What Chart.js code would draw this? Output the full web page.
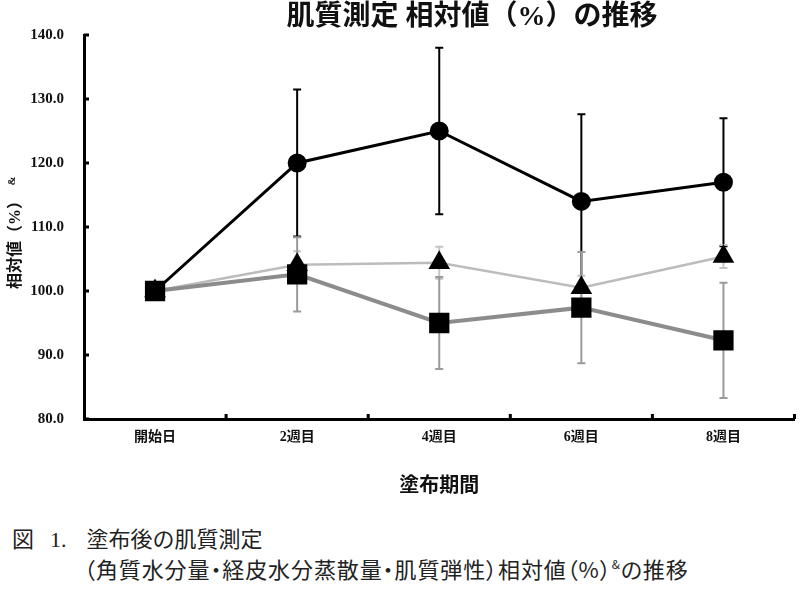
<!DOCTYPE html>
<html>
<head>
<meta charset="utf-8">
<script src="https://cdn.jsdelivr.net/npm/chart.js@4/dist/chart.umd.min.js"></script>
<style>
  body { margin: 0; background: #fff; width: 810px; height: 598px; overflow: hidden; }
  .cap { position: absolute; white-space: nowrap; font-family: "Noto Sans CJK JP", sans-serif; font-size: 22px; line-height: 30px; color: #222; }
  .num { font-family: "Liberation Serif", serif; }
  .palt { font-feature-settings: "palt"; letter-spacing: 0.9px; }
  .cap sup { font-size: 12px; vertical-align: 9px; line-height: 0; }
</style>
</head>
<body>
<canvas id="chart" width="810" height="510"></canvas>
<div class="cap" style="left:12px;top:522px">図<span class="num" style="margin-left:16px">1.</span><span style="margin-left:20px">塗布後の肌質測定</span></div>
<div class="cap palt" style="left:84px;top:553px">（角質水分量・経皮水分蒸散量・肌質弾性）相対値（%）<sup>&amp;</sup>の推移</div>
<script>
// categories and values
const labels = ['開始日', '2週目', '4週目', '6週目', '8週目'];
const circleVals = [100, 120, 125, 114, 117];
const circleErr = [0, 11.5, 13, 13.6, 10];
const triangleVals = [100, 104.1, 104.4, 100.5, 105.4];
const triangleErr = [0, 2.1, 2.5, 1.9, 1.8];
const squareVals = [100, 102.6, 95, 97.4, 92.3];
const squareErr = [0, 5.8, 7.2, 8.7, 9.0];
const yTicks = [80, 90, 100, 110, 120, 130, 140];

const titleText = '肌質測定 相対値（%）の推移';
const xTitle = '塗布期間';
const yTitle = '相対値（%）';

// error bars, inward tick marks, title and y title
const extras = {
  id: 'extras',
  beforeDatasetsDraw(chart) {
    const ctx = chart.ctx;
    const y = chart.scales.y;
    chart.data.datasets.forEach((ds, di) => {
      const meta = chart.getDatasetMeta(di);
      ds.errors.forEach((e, i) => {
        if (!e) return;
        const px = meta.data[i].x;
        const top = y.getPixelForValue(ds.data[i] + e);
        const bot = y.getPixelForValue(ds.data[i] - e);
        ctx.save();
        ctx.strokeStyle = ds.errColor;
        ctx.lineWidth = 2;
        ctx.beginPath();
        ctx.moveTo(px, top); ctx.lineTo(px, bot);
        ctx.moveTo(px - 4, top); ctx.lineTo(px + 4, top);
        ctx.moveTo(px - 4, bot); ctx.lineTo(px + 4, bot);
        ctx.stroke();
        ctx.restore();
      });
    });
  },
  afterDraw(chart) {
    const ctx = chart.ctx;
    const a = chart.chartArea;
    const y = chart.scales.y;
    const x = chart.scales.x;
    ctx.save();
    ctx.strokeStyle = '#000';
    ctx.lineWidth = 3;
    ctx.beginPath();
    yTicks.forEach(v => {
      const py = y.getPixelForValue(v);
      ctx.moveTo(a.left, py); ctx.lineTo(a.left + 5, py);
    });
    const step = x.getPixelForValue(1) - x.getPixelForValue(0);
    for (let i = 0; i < labels.length; i++) {
      const px = x.getPixelForValue(i) + step / 2;
      ctx.moveTo(px, a.bottom); ctx.lineTo(px, a.bottom - 5);
    }
    ctx.stroke();

    ctx.fillStyle = '#111';
    ctx.font = 'bold 28px "Liberation Serif", "Noto Sans CJK JP"';
    ctx.textAlign = 'center';
    ctx.textBaseline = 'middle';
    ctx.fillText(titleText, 472, 18);

    ctx.translate(16, 241);
    ctx.rotate(-Math.PI / 2);
    ctx.font = 'bold 16px "Liberation Serif", "Noto Sans CJK JP"';
    ctx.fillText(yTitle, 0, 0);
    const w = ctx.measureText(yTitle).width;
    ctx.font = 'bold 11px "Liberation Serif"';
    ctx.fillText('&', w / 2 + 12, -4);
    ctx.restore();
  }
};

new Chart(document.getElementById('chart'), {
  type: 'line',
  data: {
    labels: labels,
    datasets: [
      {
        data: circleVals, errors: circleErr, errColor: '#000',
        borderColor: '#000', borderWidth: 3,
        pointStyle: 'circle', pointRadius: 8,
        pointBackgroundColor: '#000', pointBorderColor: '#000',
        order: 3
      },
      {
        data: triangleVals, errors: triangleErr, errColor: '#c4c4c4',
        borderColor: '#bcbcbc', borderWidth: 2.5,
        pointStyle: 'triangle', pointRadius: 10,
        pointBackgroundColor: '#000', pointBorderColor: '#000',
        order: 2
      },
      {
        data: squareVals, errors: squareErr, errColor: '#9a9a9a',
        borderColor: '#8c8c8c', borderWidth: 4,
        pointStyle: 'rect', pointRadius: 11.5,
        pointBackgroundColor: '#000', pointBorderColor: '#000',
        order: 1
      }
    ]
  },
  options: {
    responsive: false,
    animation: false,
    layout: { padding: { top: 35, right: 10, left: 0, bottom: 0 } },
    plugins: {
      legend: { display: false },
      tooltip: { enabled: false }
    },
    scales: {
      x: {
        offset: true,
        grid: { display: false },
        border: { color: '#000', width: 3 },
        ticks: {
          color: '#111', padding: 2,
          font: { family: '"Liberation Serif", "Noto Sans CJK JP"', size: 14, weight: 'bold' }
        },
        title: {
          display: true, text: xTitle, color: '#111',
          padding: { top: 0, bottom: 11 },
          font: { family: '"Liberation Serif", "Noto Sans CJK JP"', size: 20, weight: 'bold' }
        },
        afterFit(scale) { scale.height = 91; }
      },
      y: {
        min: 80, max: 140,
        grid: { display: false },
        border: { color: '#000', width: 3 },
        afterBuildTicks(scale) { scale.ticks = yTicks.map(v => ({ value: v })); },
        ticks: {
          color: '#111', padding: 12,
          callback: v => v.toFixed(1),
          font: { family: '"Liberation Serif"', size: 15, weight: 'bold' }
        },
        afterFit(scale) { scale.width = 84; }
      }
    }
  },
  plugins: [extras]
});
</script>
</body>
</html>
